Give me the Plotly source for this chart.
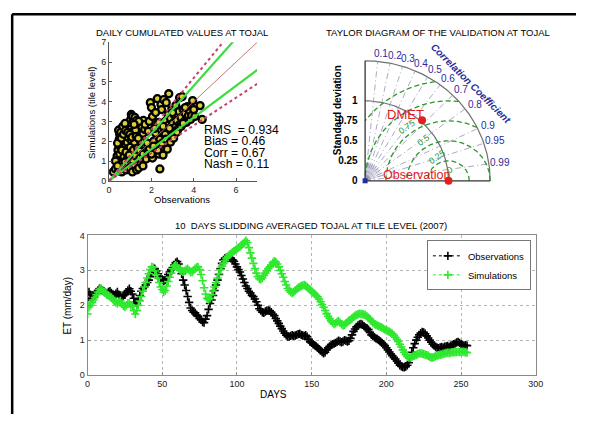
import math
import plotly.graph_objects as go

# page is 592x427; the browser adds an 8px body margin, so the figure is 576x411
PAGE_W, PAGE_H = 592, 427
OFF = 8
W, H = PAGE_W - 2 * OFF, PAGE_H - 2 * OFF

# ---------------- data ----------------
days = list(range(0, 255))
obs_et = [
    2.15, 2.38, 2.30, 2.20, 2.25, 2.32, 2.38, 2.42, 2.47, 2.45,
    2.42, 2.40, 2.36, 2.33, 2.38, 2.40, 2.35, 2.30, 2.28, 2.33,
    2.38, 2.30, 2.25, 2.22, 2.28, 2.30, 2.36, 2.42, 2.47, 2.40,
    2.32, 2.20, 2.08, 2.05, 2.15, 2.28, 2.40, 2.48, 2.52, 2.58,
    2.65, 2.72, 2.82, 2.92, 3.00, 3.05, 2.98, 2.90, 2.82, 2.76,
    2.74, 2.70, 2.72, 2.80, 2.88, 2.95, 3.02, 3.08, 3.15, 3.22,
    3.25, 3.18, 3.05, 2.90, 2.72, 2.58, 2.42, 2.25, 2.08, 1.92,
    1.85, 1.80, 1.78, 1.72, 1.68, 1.62, 1.58, 1.52, 1.50, 1.60,
    1.70, 1.88, 2.05, 2.15, 2.28, 2.42, 2.58, 2.72, 2.88, 3.05,
    3.20, 3.30, 3.35, 3.36, 3.35, 3.36, 3.34, 3.30, 3.26, 3.18,
    3.10, 3.02, 2.95, 2.85, 2.75, 2.65, 2.55, 2.48, 2.40, 2.35,
    2.28, 2.25, 2.18, 2.10, 2.00, 1.90, 1.85, 1.80, 1.78, 1.82,
    1.84, 1.85, 1.84, 1.80, 1.75, 1.70, 1.62, 1.55, 1.48, 1.40,
    1.33, 1.26, 1.20, 1.14, 1.10, 1.10, 1.12, 1.14, 1.12, 1.13,
    1.15, 1.17, 1.18, 1.15, 1.13, 1.12, 1.14, 1.10, 1.02, 0.95,
    0.92, 0.88, 0.85, 0.82, 0.78, 0.74, 0.70, 0.66, 0.62, 0.65,
    0.72, 0.78, 0.82, 0.86, 0.88, 0.90, 0.92, 0.95, 0.98, 0.96,
    0.94, 0.96, 1.00, 0.98, 0.96, 0.98, 1.05, 1.15, 1.25, 1.32,
    1.38, 1.42, 1.45, 1.46, 1.44, 1.40, 1.36, 1.34, 1.30, 1.22,
    1.15, 1.12, 1.08, 1.05, 1.03, 1.00, 0.96, 0.92, 0.88, 0.84,
    0.78, 0.72, 0.66, 0.60, 0.55, 0.50, 0.46, 0.40, 0.34, 0.28,
    0.25, 0.23, 0.22, 0.24, 0.28, 0.35, 0.48, 0.65, 0.78, 0.90,
    1.00, 1.08, 1.15, 1.20, 1.23, 1.22, 1.18, 1.12, 1.06, 1.00,
    0.94, 0.88, 0.84, 0.80, 0.78, 0.77, 0.79, 0.80, 0.78, 0.81,
    0.82, 0.83, 0.80, 0.84, 0.86, 0.88, 0.90, 0.93, 0.95, 0.92,
    0.88, 0.86, 0.84, 0.85, 0.84,
]
sim_et = [
    1.75, 1.95, 2.00, 2.08, 2.15, 2.22, 2.30, 2.38, 2.45, 2.48,
    2.42, 2.38, 2.35, 2.30, 2.28, 2.25, 2.22, 2.18, 2.12, 2.08,
    2.05, 2.10, 2.12, 2.05, 1.98, 1.95, 2.00, 2.06, 2.05, 2.00,
    1.98, 1.85, 1.75, 1.85, 2.00, 2.12, 2.25, 2.40, 2.52, 2.65,
    2.78, 2.90, 3.02, 3.10, 3.08, 2.98, 2.88, 2.78, 2.65, 2.52,
    2.45, 2.38, 2.42, 2.55, 2.68, 2.80, 2.92, 3.05, 3.12, 3.15,
    3.12, 3.05, 3.00, 2.98, 2.95, 2.98, 3.02, 3.05, 3.00, 2.95,
    2.95, 3.00, 3.05, 3.08, 3.10, 3.02, 2.88, 2.70, 2.50, 2.32,
    2.20, 2.16, 2.20, 2.30, 2.40, 2.52, 2.65, 2.78, 2.90, 3.02,
    3.12, 3.20, 3.28, 3.35, 3.40, 3.45, 3.48, 3.52, 3.55, 3.58,
    3.62, 3.65, 3.68, 3.72, 3.76, 3.80, 3.85, 3.80, 3.65, 3.50,
    3.35, 3.20, 3.05, 2.92, 2.82, 2.76, 2.74, 2.78, 2.85, 2.92,
    2.98, 3.05, 3.10, 3.15, 3.22, 3.26, 3.24, 3.18, 3.10, 3.00,
    2.90, 2.80, 2.68, 2.58, 2.48, 2.42, 2.38, 2.35, 2.38, 2.42,
    2.46, 2.50, 2.52, 2.55, 2.57, 2.58, 2.56, 2.52, 2.48, 2.44,
    2.40, 2.36, 2.32, 2.28, 2.24, 2.18, 2.10, 2.02, 1.94, 1.85,
    1.76, 1.68, 1.62, 1.55, 1.50, 1.46, 1.48, 1.52, 1.55, 1.50,
    1.45, 1.42, 1.44, 1.48, 1.52, 1.56, 1.58, 1.62, 1.66, 1.70,
    1.72, 1.74, 1.76, 1.75, 1.74, 1.73, 1.72, 1.68, 1.64, 1.60,
    1.55, 1.50, 1.46, 1.44, 1.42, 1.40, 1.38, 1.36, 1.33, 1.30,
    1.28, 1.26, 1.24, 1.21, 1.18, 1.14, 1.08, 1.02, 0.96, 0.88,
    0.80, 0.72, 0.65, 0.58, 0.53, 0.50, 0.50, 0.52, 0.55, 0.56,
    0.58, 0.60, 0.62, 0.62, 0.61, 0.60, 0.58, 0.57, 0.55, 0.52,
    0.50, 0.50, 0.52, 0.54, 0.56, 0.57, 0.58, 0.59, 0.60, 0.62,
    0.63, 0.64, 0.63, 0.64, 0.65, 0.65, 0.66, 0.66, 0.67, 0.66,
    0.66, 0.67, 0.66, 0.65, 0.64,
]

obs_daily = [
    0.35, 0.38, 0.42, 0.45, 0.48, 0.50, 0.52, 0.55, 0.58, 0.60,
    0.62, 0.65, 0.68, 0.70, 0.72, 0.75, 0.78, 0.80, 0.82, 0.85,
    0.88, 0.90, 0.92, 0.95, 0.98, 1.00, 1.02, 1.05, 1.08, 1.10,
    1.12, 1.15, 1.18, 1.20, 1.22, 1.25, 1.28, 1.30, 1.32, 1.35,
    1.38, 1.40, 1.42, 1.45, 1.48, 1.50, 1.52, 1.55, 1.58, 1.60,
    1.62, 1.65, 1.68, 1.70, 1.72, 0.45, 0.50, 0.55, 0.60, 0.65,
    0.70, 0.75, 0.80, 0.85, 0.90, 0.95, 1.00, 1.05, 1.10, 1.15,
    1.20, 1.25, 1.30, 1.35, 1.40, 1.45, 1.50, 0.40, 0.58, 0.68,
    0.78, 0.88, 0.98, 1.08, 1.18, 1.28, 1.38,
    0.20, 0.30, 0.45, 0.55, 0.60, 0.70, 0.80, 0.90, 1.00, 1.10,
    1.20, 1.30, 1.40, 1.50, 1.60, 1.10, 0.85, 0.95, 1.25, 1.45,
    1.60, 0.75, 0.30, 0.40,
    1.75, 1.85, 1.90, 1.95, 2.00, 2.05, 2.10, 2.15, 2.20, 2.25,
    2.28, 2.30, 2.35, 2.40, 2.42, 2.45, 2.48, 2.50, 2.55, 2.58,
    2.60, 2.62, 2.65, 2.70, 2.72, 2.75, 2.78, 2.80, 2.82, 2.85,
    2.90, 2.92, 2.95, 3.00, 3.05, 3.10, 3.12, 3.15, 3.20, 3.25,
    3.30, 3.33, 3.35, 3.40, 3.45, 3.50, 3.55, 3.60, 3.65, 3.70,
    3.75, 3.80, 3.85, 3.90, 3.95, 4.00, 4.05, 4.30, 4.40, 2.15,
    2.35, 2.55, 2.65, 2.85, 3.00, 3.20, 3.40, 3.50, 3.60, 2.40,
    2.50, 2.68, 2.90, 3.05, 2.30, 2.00, 1.80, 1.85, 1.90, 2.05,
    2.20, 2.10,
]
sim_daily = [
    1.05, 1.25, 1.55, 1.85, 2.10, 2.35, 2.60, 1.70, 2.00, 2.25,
    2.55, 1.40, 1.90, 2.40, 2.60, 2.15, 1.75, 2.45, 2.05, 2.30,
    2.70, 1.60, 2.50, 2.00, 2.85, 2.25, 3.10, 3.35, 2.60, 3.25,
    1.90, 3.00, 2.40, 2.75, 3.20, 2.10, 2.95, 2.50, 1.75, 2.30,
    2.80, 2.60, 2.05, 2.45, 1.85, 2.95, 2.20, 2.70, 1.60, 2.40,
    3.05, 2.00, 2.60, 2.85, 1.80, 2.55, 1.35, 2.45, 1.55, 2.75,
    1.20, 2.90, 1.45, 1.95, 2.20, 2.60, 1.70, 2.05, 2.45, 1.55,
    1.95, 2.55, 3.05, 1.65, 3.00, 1.50, 2.00, 1.90, 2.15, 2.35,
    2.55, 2.45, 2.35, 2.20, 2.85, 2.25, 2.15,
    0.45, 0.60, 0.50, 0.85, 0.45, 0.70, 0.55, 0.95, 0.60, 0.45,
    0.80, 0.55, 0.65, 0.90, 0.75, 1.05, 1.10, 1.30, 1.25, 1.15,
    1.35, 0.95, 1.00, 0.75,
    1.10, 1.40, 1.65, 3.95, 3.70, 1.15, 2.00, 1.45, 2.40, 1.75,
    4.15, 2.90, 1.35, 0.60, 1.65, 3.85, 3.60, 2.20, 1.30, 4.10,
    2.60, 1.85, 3.00, 3.95, 2.45, 1.60, 3.35, 2.80, 4.40, 2.20,
    3.15, 2.55, 3.60, 2.90, 2.35, 3.30, 2.70, 3.80, 3.05, 2.60,
    3.50, 4.20, 2.85, 3.20, 4.25, 3.60, 3.00, 3.40, 2.95, 3.75,
    3.30, 3.55, 3.10, 3.30, 4.05, 3.60, 3.25, 3.80, 3.10, 2.65,
    2.95, 2.75, 2.35, 2.65, 3.45, 2.45, 2.75, 2.90, 3.70, 2.10,
    1.90, 2.10, 1.95, 2.15, 1.55, 1.35, 1.90, 2.50, 3.00, 3.25,
    3.45, 1.75,
]

stats_text = ["RMS  = 0.934", "Bias = 0.46", "Corr = 0.67", "Nash = 0.11"]
ratio_lines = [1.0, 1.2, 0.8, 1.3, 0.7]

taylor_names = ["DMET", "Observation"]
taylor_std = [1.02, 1.0]
taylor_corr = [0.67, 1.0]
corr_ticks = [0.1, 0.2, 0.3, 0.4, 0.5, 0.6, 0.7, 0.8, 0.9, 0.95, 0.99]
std_ticks = [0, 0.25, 0.5, 0.75, 1]
std_tick_text = ["0", "0.25", "0.5", "0.75", "1"]
rms_levels = [0.25, 0.5, 0.75, 1.0, 1.25]
rms_label_text = ["0.75", "0.5", "0.25", "0"]
std_arcs = [1.0, 1.5]
std_max = 1.5

# ---------------- helpers (page pixel -> figure paper) ----------------
def px(x):
    return (x - OFF) / W

def py(y):
    return 1 - (y - OFF) / H

# Taylor mapping: origin (369,180) page px, 85 px/unit horizontally, 82 px/unit vertically
tx0, ty0, sxp, syp = 369, 180, 85, 82
t_lo, t_hi = -0.03, 1.53

def tpx(x):
    return px(tx0 + x * sxp)

def tpy(y):
    return py(ty0 - y * syp)

FONT = "Liberation Sans, Arial, sans-serif"
fig = go.Figure()

# ---------------- scatter panel ----------------
fig.add_trace(go.Scatter(
    x=obs_daily, y=sim_daily, mode="markers", xaxis="x", yaxis="y",
    marker=dict(size=7, color="#dccf38", line=dict(color="black", width=2.3)),
    showlegend=False, hoverinfo="skip"))

for s in ratio_lines:
    if s == 1.0:
        ln = dict(color="#b86a6a", width=0.9)
    elif s in (1.2, 0.8):
        ln = dict(color="#3ddc3d", width=2.2)
    else:
        ln = dict(color="#c8406a", width=2.0, dash="dot")
    fig.add_trace(go.Scatter(x=[0, 7], y=[0, 7 * s], mode="lines", xaxis="x", yaxis="y",
                             line=ln, showlegend=False, hoverinfo="skip"))

# ---------------- Taylor panel ----------------
n = 120
for r in std_arcs:
    th = [math.pi / 2 * i / n for i in range(n + 1)]
    fig.add_trace(go.Scatter(x=[r * math.cos(t) for t in th], y=[r * math.sin(t) for t in th],
                             mode="lines", xaxis="x2", yaxis="y2",
                             line=dict(color="#707070", width=1.2),
                             showlegend=False, hoverinfo="skip"))

for k in range(1, 20):
    c = k * 0.05
    a = math.acos(c)
    fig.add_trace(go.Scatter(x=[0, 0.22 * math.cos(a)], y=[0, 0.22 * math.sin(a)],
                             mode="lines", xaxis="x2", yaxis="y2",
                             line=dict(color="#c0c0d4", width=0.7),
                             showlegend=False, hoverinfo="skip"))

for c in corr_ticks:
    a = math.acos(c)
    fig.add_trace(go.Scatter(x=[0, std_max * math.cos(a)], y=[0, std_max * math.sin(a)],
                             mode="lines", xaxis="x2", yaxis="y2",
                             line=dict(color="#9494b4", width=0.8, dash="6px,3px,1px,3px"),
                             showlegend=False, hoverinfo="skip"))

for R in rms_levels:
    xs, ys = [], []
    for i in range(361):
        ph = math.pi * i / 360
        xx = 1 + R * math.cos(ph)
        yy = R * math.sin(ph)
        if xx >= 0 and xx * xx + yy * yy <= std_max ** 2:
            xs.append(xx); ys.append(yy)
        else:
            xs.append(None); ys.append(None)
    fig.add_trace(go.Scatter(x=xs, y=ys, mode="lines", xaxis="x2", yaxis="y2",
                             line=dict(color="#2f962f", width=1.3, dash="5px,3px"),
                             showlegend=False, hoverinfo="skip"))

fig.add_trace(go.Scatter(x=[0, 0, None, 0, std_max], y=[std_max, 0, None, 0, 0],
                         mode="lines", xaxis="x2", yaxis="y2",
                         line=dict(color="#333333", width=1.3),
                         showlegend=False, hoverinfo="skip"))

tx = [s * c for s, c in zip(taylor_std, taylor_corr)]
ty = [s * math.sqrt(max(0.0, 1 - c * c)) for s, c in zip(taylor_std, taylor_corr)]
fig.add_trace(go.Scatter(x=tx, y=ty, mode="markers", xaxis="x2", yaxis="y2",
                         marker=dict(size=8, color="#e02020"), cliponaxis=False,
                         showlegend=False, hoverinfo="skip"))
fig.add_trace(go.Scatter(x=[0], y=[0], mode="markers", xaxis="x2", yaxis="y2",
                         marker=dict(size=5, color="#2030a0", symbol="square"), cliponaxis=False,
                         showlegend=False, hoverinfo="skip"))

# ---------------- time series panel ----------------
fig.add_trace(go.Scatter(x=days, y=obs_et, mode="lines+markers", name="Observations",
                         xaxis="x3", yaxis="y3",
                         line=dict(color="black", width=1, dash="dot"),
                         marker=dict(symbol="cross-thin", size=6, color="black",
                                     line=dict(color="black", width=1.6))))
fig.add_trace(go.Scatter(x=days, y=sim_et, mode="lines+markers", name="Simulations",
                         xaxis="x3", yaxis="y3",
                         line=dict(color="#2ee82e", width=1, dash="dot"),
                         marker=dict(symbol="cross-thin", size=6, color="#2ee82e",
                                     line=dict(color="#2ee82e", width=1.6))))

# ---------------- layout ----------------
tickfont = dict(family=FONT, size=9, color="#222")

fig.update_layout(
    width=W, height=H, autosize=False,
    margin=dict(l=0, r=0, t=0, b=0),
    paper_bgcolor="white", plot_bgcolor="white",
    font=dict(family=FONT, size=9, color="black"),
    xaxis=dict(domain=[px(108), px(259)], range=[0, 7], tickvals=[0, 2, 4, 6],
               showgrid=False, zeroline=False, showline=True, linecolor="#555",
               ticks="inside", ticklen=3, tickcolor="#555", tickfont=tickfont, anchor="y"),
    yaxis=dict(domain=[py(180), py(38)], range=[0, 7], tickvals=list(range(8)),
               showgrid=False, zeroline=False, showline=True, linecolor="#555",
               ticks="inside", ticklen=3, tickcolor="#555", tickfont=tickfont, anchor="x"),
    xaxis2=dict(domain=[tpx(t_lo), tpx(t_hi)], range=[t_lo, t_hi],
                visible=False, anchor="y2"),
    yaxis2=dict(domain=[tpy(t_lo), tpy(t_hi)], range=[t_lo, t_hi],
                tickvals=std_ticks, ticktext=std_tick_text, showgrid=False, zeroline=False,
                showline=False, ticks="", ticklabelstandoff=4,
                tickfont=dict(family=FONT, size=10, color="black", weight="bold"), anchor="x2"),
    xaxis3=dict(domain=[px(86), px(543)], range=[0, 300], tickvals=[0, 50, 100, 150, 200, 250, 300],
                showgrid=True, gridcolor="#b5b5b5", griddash="dot", zeroline=False,
                showline=True, mirror=True, linecolor="#8a8a8a", ticks="inside", ticklen=3,
                tickcolor="#8a8a8a", tickfont=tickfont, anchor="y3"),
    yaxis3=dict(domain=[py(379), py(236)], range=[0, 4], tickvals=[0, 1, 2, 3, 4],
                showgrid=True, gridcolor="#b5b5b5", griddash="dot", zeroline=False,
                showline=True, mirror=True, linecolor="#8a8a8a", ticks="inside", ticklen=3,
                tickcolor="#8a8a8a", tickfont=tickfont, anchor="x3"),
    legend=dict(x=px(538), xanchor="right", y=py(241), yanchor="top",
                bgcolor="white", bordercolor="#777", borderwidth=1,
                font=dict(family=FONT, size=9.5, color="black"),
                tracegroupgap=0, itemwidth=30),
    showlegend=True,
)

ann = []
def text(x, y, s, size=10, color="black", angle=0, xanchor="center", weight="normal",
         style="normal"):
    ann.append(dict(x=x, y=y, xref="paper", yref="paper", text=s, showarrow=False,
                    xanchor=xanchor, yanchor="middle", textangle=angle, borderpad=0,
                    font=dict(family=FONT, size=size, color=color, weight=weight, style=style)))

text(px(182), py(28), "DAILY CUMULATED VALUES AT TOJAL", size=9.5)
text(px(182), py(199), "Observations", size=9.5)
text(px(90), py(110), "Simulations (tile level)", size=9.5, angle=-90)
text(px(443), py(28), "TAYLOR DIAGRAM OF THE VALIDATION AT TOJAL", size=9.5)
text(px(341), py(108), "Standard deviation", size=10, angle=-90, weight="bold")
text(px(314), py(226), "10  DAYS SLIDDING AVERAGED TOJAL AT TILE LEVEL (2007)", size=9.5)
text(px(276), py(399), "DAYS", size=10)
text(px(66), py(308), "ET (mm/day)", size=10, angle=-90)

for s, yy in zip(stats_text, [128, 139.5, 151, 162.5]):
    text(px(204), py(yy), s, size=12.2, xanchor="left")

for c in corr_ticks:
    a = math.acos(c)
    r = 1.6
    text(tpx(r * math.cos(a)) + 3 / W, tpy(r * math.sin(a)), str(c), size=10, color="#2a2a9a")
text(px(477), py(80), "Correlation Coefficient", size=10, color="#2a2a9a", angle=45,
     weight="bold", style="italic")

for s, (xx, yy) in zip(rms_label_text, [(0.50, 0.67), (0.70, 0.51), (0.86, 0.30), (1.01, 0.14)]):
    text(tpx(xx), tpy(yy), s, size=9, color="#2f962f", angle=-35)

text(tpx(0.48), tpy(0.83), "DMET", size=13, color="#e02020")
text(tpx(0.62), tpy(0.07), "Observation", size=12.5, color="#e02020")

fig.update_layout(annotations=ann)

# outer frame (left and top edges)
fig.update_layout(shapes=[
    dict(type="line", xref="paper", yref="paper", x0=1.2 / W, x1=1.2 / W, y0=0, y1=1 - 1.2 / H,
         line=dict(color="black", width=2.5)),
    dict(type="line", xref="paper", yref="paper", x0=1.2 / W, x1=1, y0=1 - 1.2 / H, y1=1 - 1.2 / H,
         line=dict(color="black", width=2.5)),
])

fig.write_html("out.html", config={"displayModeBar": False})
